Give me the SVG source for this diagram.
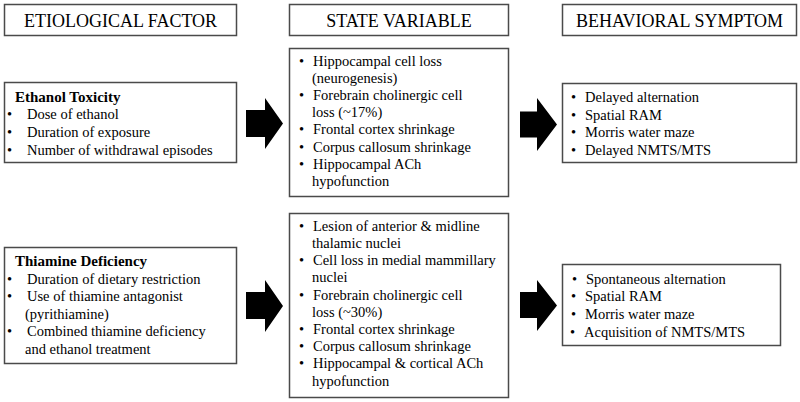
<svg xmlns="http://www.w3.org/2000/svg" width="800" height="402" viewBox="0 0 800 402">
<style>
.box{fill:#fff;stroke:#4a4a4a;stroke-width:1.5}
.hd{font-family:"Liberation Serif","Times New Roman",serif;font-size:18px;fill:#000;text-anchor:middle}
.t{font-family:"Liberation Serif","Times New Roman",serif;font-size:14.5px;fill:#000}
.b{font-weight:bold;font-size:15px}
.arr{fill:#000}
</style>
<rect width="800" height="402" fill="#fff"/>
<g id="hdr-etiological"><rect class="box" x="4.5" y="4.5" width="232" height="31"/><text class="hd" x="120.5" y="26.5">ETIOLOGICAL FACTOR</text></g>
<g id="hdr-state"><rect class="box" x="289.5" y="4.5" width="219" height="31"/><text class="hd" x="399" y="26.5">STATE VARIABLE</text></g>
<g id="hdr-behavioral"><rect class="box" x="562.5" y="4.5" width="234" height="31"/><text class="hd" x="679.5" y="26.5">BEHAVIORAL SYMPTOM</text></g>

<g id="ethanol">
<rect class="box" x="4.5" y="82.5" width="232" height="80"/>
<text class="t b" x="15" y="101.7">Ethanol Toxicity</text>
<text class="t" x="7" y="119.3">•</text><text class="t" x="27" y="119.3">Dose of ethanol</text>
<text class="t" x="7" y="136.9">•</text><text class="t" x="27" y="136.9">Duration of exposure</text>
<text class="t" x="7" y="154.5">•</text><text class="t" x="27" y="154.5">Number of withdrawal episodes</text>
</g>

<g id="state-ethanol">
<rect class="box" x="289.5" y="48.5" width="219" height="148"/>
<text class="t" x="299" y="66">•</text><text class="t" x="313" y="66">Hippocampal cell loss</text>
<text class="t" x="312" y="83.1">(neurogenesis)</text>
<text class="t" x="299" y="100.2">•</text><text class="t" x="313" y="100.2">Forebrain cholinergic cell</text>
<text class="t" x="312" y="117.3">loss (~17%)</text>
<text class="t" x="299" y="134.4">•</text><text class="t" x="313" y="134.4">Frontal cortex shrinkage</text>
<text class="t" x="299" y="151.5">•</text><text class="t" x="313" y="151.5">Corpus callosum shrinkage</text>
<text class="t" x="299" y="168.6">•</text><text class="t" x="313" y="168.6">Hippocampal ACh</text>
<text class="t" x="312" y="185.7">hypofunction</text>
</g>

<g id="behavior-ethanol">
<rect class="box" x="562.5" y="83.5" width="234" height="79"/>
<text class="t" x="571" y="102">•</text><text class="t" x="585" y="102">Delayed alternation</text>
<text class="t" x="571" y="119.5">•</text><text class="t" x="585" y="119.5">Spatial RAM</text>
<text class="t" x="571" y="137">•</text><text class="t" x="585" y="137">Morris water maze</text>
<text class="t" x="571" y="154.5">•</text><text class="t" x="585" y="154.5">Delayed NMTS/MTS</text>
</g>

<g id="thiamine">
<rect class="box" x="4.5" y="247.5" width="232" height="116"/>
<text class="t b" x="15" y="265.5">Thiamine Deficiency</text>
<text class="t" x="7" y="284">•</text><text class="t" x="27" y="284">Duration of dietary restriction</text>
<text class="t" x="7" y="301.4">•</text><text class="t" x="27" y="301.4">Use of thiamine antagonist</text>
<text class="t" x="25" y="318.8">(pyrithiamine)</text>
<text class="t" x="7" y="336.2">•</text><text class="t" x="27" y="336.2">Combined thiamine deficiency</text>
<text class="t" x="25" y="353.6">and ethanol treatment</text>
</g>

<g id="state-thiamine">
<rect class="box" x="289.5" y="213.5" width="219" height="184"/>
<text class="t" x="299" y="230.7">•</text><text class="t" x="313" y="230.7">Lesion of anterior &amp; midline</text>
<text class="t" x="312" y="247.9">thalamic nuclei</text>
<text class="t" x="299" y="265.1">•</text><text class="t" x="313" y="265.1">Cell loss in medial mammillary</text>
<text class="t" x="312" y="282.3">nuclei</text>
<text class="t" x="299" y="299.5">•</text><text class="t" x="313" y="299.5">Forebrain cholinergic cell</text>
<text class="t" x="312" y="316.7">loss (~30%)</text>
<text class="t" x="299" y="333.9">•</text><text class="t" x="313" y="333.9">Frontal cortex shrinkage</text>
<text class="t" x="299" y="351.1">•</text><text class="t" x="313" y="351.1">Corpus callosum shrinkage</text>
<text class="t" x="299" y="368.3">•</text><text class="t" x="313" y="368.3">Hippocampal &amp; cortical ACh</text>
<text class="t" x="312" y="385.5">hypofunction</text>
</g>

<g id="behavior-thiamine">
<rect class="box" x="562.5" y="264.5" width="218" height="81"/>
<text class="t" x="572" y="283.5">•</text><text class="t" x="586" y="283.5">Spontaneous alternation</text>
<text class="t" x="571" y="301.3">•</text><text class="t" x="585" y="301.3">Spatial RAM</text>
<text class="t" x="571" y="319">•</text><text class="t" x="585" y="319">Morris water maze</text>
<text class="t" x="570" y="336.7">•</text><text class="t" x="584" y="336.7">Acquisition of NMTS/MTS</text>
</g>

<g id="connectors">
<polygon class="arr" points="246,110 265,110 265,98 283,123.5 265,149 265,137 246,137"/>
<polygon class="arr" points="520,111.5 537,111.5 537,98 557,124.5 537,151 537,137.5 520,137.5"/>
<polygon class="arr" points="246,292 265,292 265,280 283,306 265,332 265,319 246,319"/>
<polygon class="arr" points="520,292 537,292 537,280 557,305.5 537,331 537,318 520,318"/>
</g>
</svg>
